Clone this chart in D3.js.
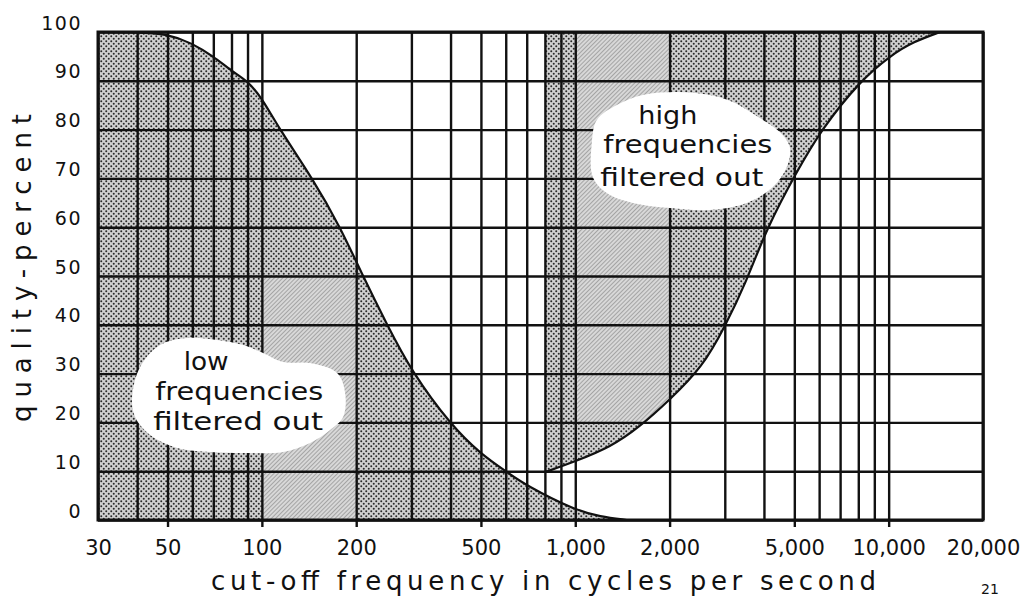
<!DOCTYPE html>
<html>
<head>
<meta charset="utf-8">
<script src="https://cdn.jsdelivr.net/npm/d3@7"></script>
<style>
  html, body { margin: 0; padding: 0; background: #ffffff; }
  svg { display: block; }
  text { font-family: "DejaVu Sans", "Noto Sans", sans-serif; fill: #111; }
</style>
</head>
<body>
<svg id="chart" width="1028" height="600"></svg>
<script>
// ---------- data ----------
const gridFreqs = [30,40,50,60,70,80,90,100,200,300,400,500,600,700,800,900,1000,2000,3000,4000,5000,6000,7000,8000,9000,10000,20000];
const qualityTicks = [0,10,20,30,40,50,60,70,80,90,100];
const xLabelValues = [30,50,100,200,500,1000,2000,5000,10000,20000];
const xLabelText = ["30","50","100","200","500","1,000","2,000","5,000","10,000","20,000"];
const xMarkTicks = [50,100,200,500,1000,2000,5000,10000];

// low frequencies filtered out (quality vs. low cut-off)
const lowFreq    = [30, 40, 50, 60, 70, 80, 90, 100, 114, 145, 178, 210, 251, 300, 400, 500, 600, 700, 1000, 1200, 1460];
const lowQuality = [100, 100, 99.6, 97.7, 95, 92, 90, 86.5, 80, 70, 60, 50, 40, 30.5, 19.5, 13.5, 10, 7, 2, 0.7, 0];

// high frequencies filtered out (quality vs. high cut-off)
const highFreq    = [800, 1000, 1300, 1600, 2000, 2550, 3000, 3500, 4080, 5090, 6100, 8100, 10200, 12000, 14600];
const highQuality = [9.8, 12, 15, 19, 24.6, 31.4, 39.6, 48.5, 59.8, 71.4, 80, 90, 95.3, 98, 100];

// zones with the finer (hatched) tint inside the shaded regions
const lowHatchFreq = [100, 200];   const lowHatchQuality = [0, 50];
const highHatchFreq = [1000, 2000]; const highHatchQuality = [20, 100];

// label anchors (data space)
const lowLabelAnchor = {f: 84, q: 25.6};
const highLabelAnchor = {f: 2320, q: 75.8};
const lowLabelLines = ["low", "frequencies", "filtered out"];
const highLabelLines = ["high", "frequencies", "filtered out"];

// ---------- layout ----------
const svg = d3.select("#chart");
const x = d3.scaleLog().domain([30, 20000]).range([98, 983]);
const y = d3.scaleLinear().domain([0, 100]).range([520, 32]);
const W = x(20000) - x(30), H = y(0) - y(100);

const lowData = lowFreq.map((f, i) => ({f, q: lowQuality[i]}));
const highData = highFreq.map((f, i) => ({f, q: highQuality[i]}));

// ---------- patterns ----------
const defs = svg.append("defs");
const dots = defs.append("pattern").attr("id", "dots").attr("patternUnits", "userSpaceOnUse")
  .attr("width", 5).attr("height", 5);
dots.append("rect").attr("width", 5).attr("height", 5).attr("fill", "#d0d0d0");
dots.append("circle").attr("cx", 1.25).attr("cy", 1.25).attr("r", 1).attr("fill", "#2a2a2a");
dots.append("circle").attr("cx", 3.75).attr("cy", 3.75).attr("r", 1).attr("fill", "#2a2a2a");

const hatch = defs.append("pattern").attr("id", "hatch").attr("patternUnits", "userSpaceOnUse")
  .attr("width", 3).attr("height", 3).attr("patternTransform", "rotate(45)");
hatch.append("rect").attr("width", 3).attr("height", 3).attr("fill", "#d8d8d8");
hatch.append("line").attr("x1", 0).attr("y1", 0).attr("x2", 0).attr("y2", 3)
  .attr("stroke", "#707070").attr("stroke-width", 1);

// ---------- shaded areas ----------
const curve = d3.curveBasis;
const lowArea = d3.area().x(d => x(d.f)).y0(y(0)).y1(d => y(d.q)).curve(curve);
const highArea = d3.area().x(d => x(d.f)).y0(y(100)).y1(d => y(d.q)).curve(curve);

defs.append("clipPath").attr("id", "clipLow").append("path").attr("d", lowArea(lowData));
defs.append("clipPath").attr("id", "clipHigh").append("path").attr("d", highArea(highData));

svg.append("path").attr("d", lowArea(lowData)).attr("fill", "url(#dots)");
svg.append("path").attr("d", highArea(highData)).attr("fill", "url(#dots)");

svg.append("g").attr("clip-path", "url(#clipLow)").append("rect")
  .attr("x", x(lowHatchFreq[0])).attr("width", x(lowHatchFreq[1]) - x(lowHatchFreq[0]))
  .attr("y", y(lowHatchQuality[1])).attr("height", y(lowHatchQuality[0]) - y(lowHatchQuality[1]))
  .attr("fill", "url(#hatch)");
svg.append("g").attr("clip-path", "url(#clipHigh)").append("rect")
  .attr("x", x(highHatchFreq[0])).attr("width", x(highHatchFreq[1]) - x(highHatchFreq[0]))
  .attr("y", y(highHatchQuality[1])).attr("height", y(highHatchQuality[0]) - y(highHatchQuality[1]))
  .attr("fill", "url(#hatch)");

// ---------- grid ----------
const gridV = svg.append("g").attr("transform", `translate(0,${y(0)})`)
  .call(d3.axisBottom(x).tickValues(gridFreqs).tickSize(-H).tickFormat(""));
gridV.select(".domain").remove();
gridV.selectAll("line").attr("stroke", "#111").attr("stroke-width", 2.4);

const gridH = svg.append("g").attr("transform", `translate(${x(30)},0)`)
  .call(d3.axisLeft(y).tickValues(qualityTicks).tickSize(-W).tickFormat(""));
gridH.select(".domain").remove();
gridH.selectAll("line").attr("stroke", "#111").attr("stroke-width", 2.4);

// small tick marks below the axis
const marks = svg.append("g").attr("transform", `translate(0,${y(0)})`)
  .call(d3.axisBottom(x).tickValues(xMarkTicks).tickSize(7).tickFormat(""));
marks.select(".domain").remove();
marks.selectAll("line").attr("stroke", "#111").attr("stroke-width", 2.4);

// ---------- curves ----------
const line = d3.line().x(d => x(d.f)).y(d => y(d.q)).curve(curve);
svg.append("path").attr("d", line(lowData)).attr("fill", "none").attr("stroke", "#111").attr("stroke-width", 2.2);
svg.append("path").attr("d", line(highData)).attr("fill", "none").attr("stroke", "#111").attr("stroke-width", 2.2);

// frame
svg.append("rect").attr("x", x(30)).attr("y", y(100)).attr("width", W).attr("height", H)
  .attr("fill", "none").attr("stroke", "#111").attr("stroke-width", 3);

// ---------- label blobs ----------
const lowBlob = [[-106,2],[-98,-28],[-78,-50],[-51,-57],[-21,-55],[5,-50],[25,-42],[45,-33],[72,-32],[99,-22],[107,-2],[105,22],[92,35],[72,48],[45,57],[5,58],[-28,57],[-61,53],[-88,40],[-103,22]];
const highBlob = [[-93,-30],[-73,-45],[-47,-55],[-13,-58],[20,-55],[43,-48],[70,-32],[90,-18],[100,-3],[97,17],[83,37],[57,53],[20,60],[-20,58],[-57,53],[-83,43],[-97,27],[-98,-7]];
const blobLine = d3.line().curve(d3.curveCatmullRomClosed.alpha(0.5));

function label(anchor, blob, lines, offsets) {
  const ax = x(anchor.f), ay = y(anchor.q);
  const g = svg.append("g").attr("transform", `translate(${ax},${ay})`);
  g.append("path").attr("d", blobLine(blob)).attr("fill", "#ffffff");
  lines.forEach((s, i) => {
    g.append("text").attr("x", offsets[i][0]).attr("y", offsets[i][1])
      .attr("text-anchor", "middle").attr("font-size", 24)
      .attr("textLength", offsets[i][2]).attr("lengthAdjust", "spacingAndGlyphs")
      .text(s);
  });
}
label(lowLabelAnchor, lowBlob, lowLabelLines, [[-32, -25, 45], [1, 5, 168], [0, 35, 170]]);
label(highLabelAnchor, highBlob, highLabelLines, [[-22, -26, 59], [-2, 3, 169], [-8, 36, 163]]);

// ---------- axis labels ----------
const xLab = svg.append("g").attr("transform", `translate(0,${y(0)})`)
  .call(d3.axisBottom(x).tickValues(xLabelValues).tickSize(0).tickPadding(20)
    .tickFormat((d, i) => xLabelText[i]));
xLab.select(".domain").remove();
xLab.selectAll("text").attr("font-size", 21).attr("fill", "#111")
  .attr("font-family", "'DejaVu Sans', sans-serif");

const yLab = svg.append("g").attr("transform", `translate(${x(30)},0)`)
  .call(d3.axisLeft(y).tickValues(qualityTicks).tickSize(0).tickPadding(16));
yLab.select(".domain").remove();
yLab.selectAll("text").attr("font-size", 19).attr("fill", "#111").attr("dy", null).attr("y", -3)
  .attr("font-family", "'DejaVu Sans', sans-serif").attr("letter-spacing", 1.5);

svg.append("text").attr("x", 211).attr("y", 590).attr("font-size", 26)
  .attr("textLength", 665).attr("lengthAdjust", "spacing")
  .text("cut-off frequency in cycles per second");

svg.append("text").attr("transform", "translate(31,268) rotate(-90)").attr("text-anchor", "middle")
  .attr("font-size", 26).attr("textLength", 308).attr("lengthAdjust", "spacing")
  .text("quality-percent");

svg.append("text").attr("x", 990).attr("y", 594).attr("text-anchor", "middle")
  .attr("font-size", 14).attr("font-family", "'Liberation Serif', serif").text("21");
</script>
</body>
</html>
